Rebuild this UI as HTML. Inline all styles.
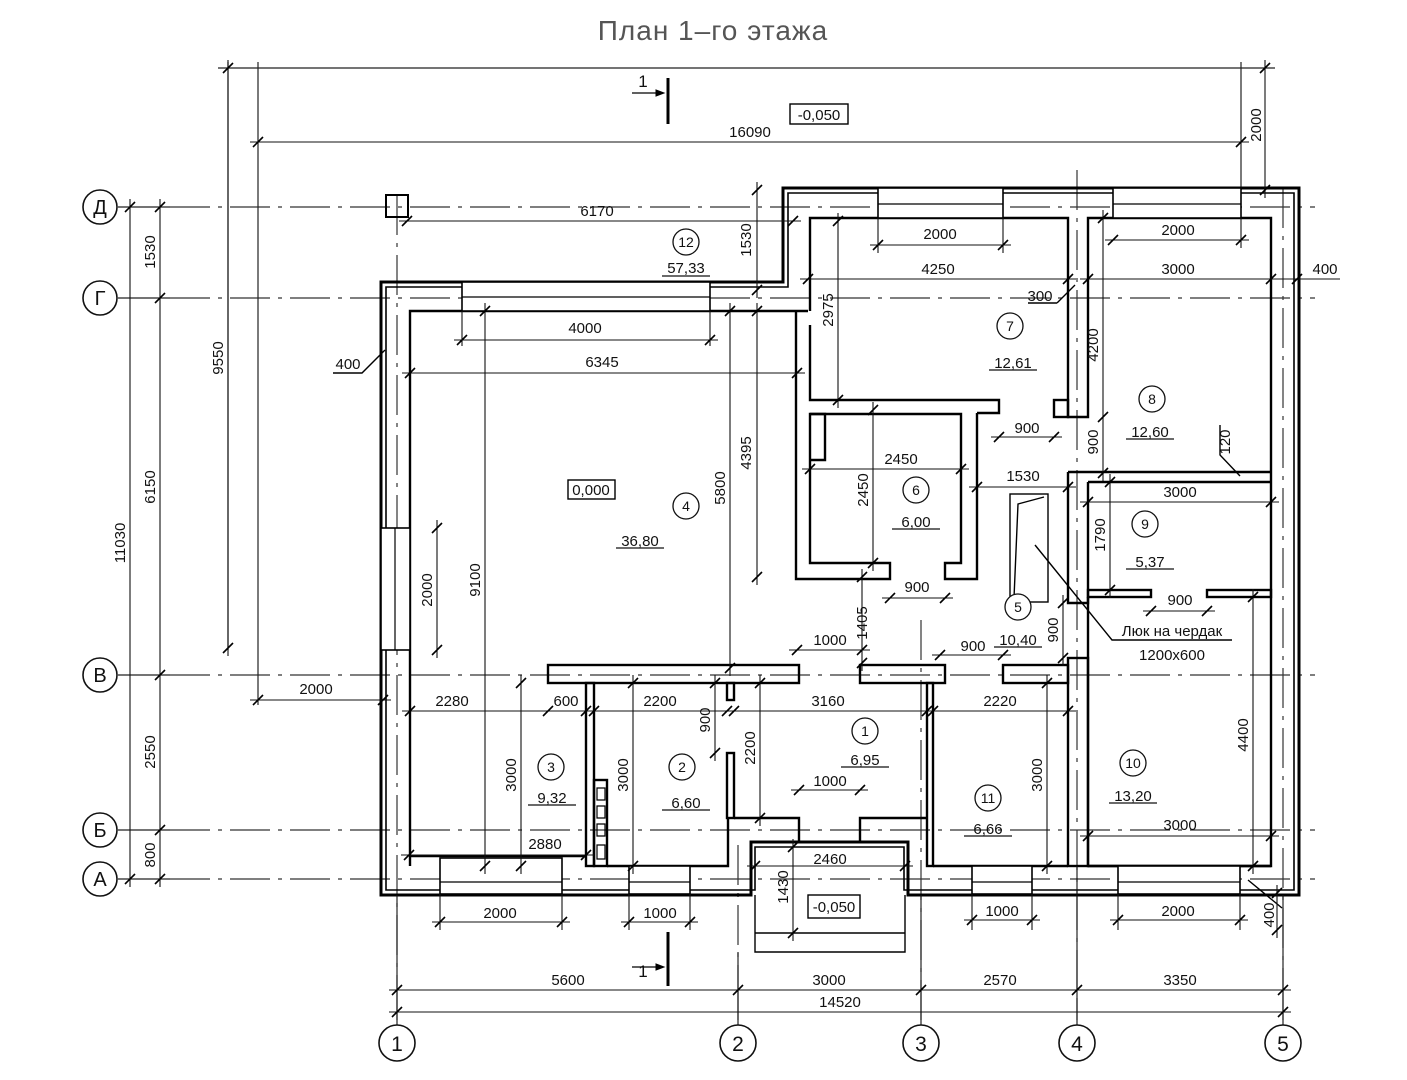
<!DOCTYPE html>
<html><head><meta charset="utf-8"><style>
html,body{margin:0;padding:0;background:#fff}
svg{display:block}
text{font-family:"Liberation Sans",sans-serif;font-size:15px;fill:#111}
.t{text-anchor:middle}
</style></head><body>
<svg width="1407" height="1080" viewBox="0 0 1407 1080" xmlns="http://www.w3.org/2000/svg">
<defs><path id="k" d="M-5,5L5,-5" stroke="#000" stroke-width="1.6"/></defs>
<rect width="1407" height="1080" fill="#fff"/>
<text x="713" y="40" class="t" style="font-size:28px;fill:#555;letter-spacing:1px">План 1–го этажа</text>

<g stroke="#333" stroke-width="1.2" stroke-dasharray="40,8,4,8" fill="none">
<path d="M170,207H1315M170,298H1315M170,675H1315M170,830H1315M170,879H1315"/>
<path d="M397,195V1000M738,845V1000M921,620V1000M1077,170V1000M1283,188V1000"/>
</g>
<g stroke="#222" stroke-width="1.2" fill="none">
<path d="M118,207H170M118,298H170M118,675H170M118,830H170M118,879H170"/>
<path d="M397,1000V1025M738,1000V1025M921,1000V1025M1077,1000V1025M1283,1000V1025"/>
<path d="M218,68H1275M258,62V705M228,62V650M1241,62V190"/>
</g>
<g fill="#fff" stroke="#111" stroke-width="1.6">
<circle cx="100" cy="207" r="17"/><circle cx="100" cy="298" r="17"/><circle cx="100" cy="675" r="17"/><circle cx="100" cy="830" r="17"/><circle cx="100" cy="879" r="17"/>
<circle cx="397" cy="1043" r="18"/><circle cx="738" cy="1043" r="18"/><circle cx="921" cy="1043" r="18"/><circle cx="1077" cy="1043" r="18"/><circle cx="1283" cy="1043" r="18"/>
</g>
<g>
<text x="100" y="214" class="t" style="font-size:20px">Д</text><text x="100" y="305" class="t" style="font-size:20px">Г</text><text x="100" y="682" class="t" style="font-size:20px">В</text><text x="100" y="837" class="t" style="font-size:20px">Б</text><text x="100" y="886" class="t" style="font-size:20px">А</text>
<text x="397" y="1051" class="t" style="font-size:21px">1</text><text x="738" y="1051" class="t" style="font-size:21px">2</text><text x="921" y="1051" class="t" style="font-size:21px">3</text><text x="1077" y="1051" class="t" style="font-size:21px">4</text><text x="1283" y="1051" class="t" style="font-size:21px">5</text>
</g>

<g fill="none" stroke="#000" stroke-width="3">
<path d="M381,282H783V188H1299V895H908V842H751V895H381Z"/>
</g>
<g fill="none" stroke="#000" stroke-width="1.6">
<path d="M386,287H788V193H1294V890H904V847H755V890H386Z"/>
</g>
<g fill="none" stroke="#000" stroke-width="2.4">
<path d="M410,856V311H808"/>
<path d="M810,311V218H1068V417H1088V218H1271V866H1088V597"/>
<rect x="1054" y="400" width="14" height="17"/>
<path d="M810,325V400H999V413H977"/>
<path d="M796,311V579H890V563H810V414H961V563H945V579H977V413"/>
<path d="M810,414h15v46h-15"/>
<path d="M1068,472H1271M1088,482H1271M1068,472V603H1088V482"/>
<rect x="1088" y="590" width="63" height="7"/><rect x="1207" y="590" width="64" height="7"/>
<rect x="1068" y="658" width="20" height="208"/>
<rect x="548" y="665" width="251" height="18"/><rect x="860" y="665" width="85" height="18"/><rect x="1003" y="665" width="65" height="18"/>
<rect x="586" y="683" width="8" height="183"/><rect x="594" y="780" width="13" height="86"/>
<path d="M597,788h8v12h-8zM597,806h8v12h-8zM597,824h8v12h-8zM597,845h8v14h-8z" stroke-width="1.2"/>
<rect x="727" y="683" width="7" height="17"/><rect x="727" y="753" width="7" height="65"/>
<path d="M734,818H799V842M860,842V818H927"/>
<rect x="927" y="683" width="6" height="183"/>
<path d="M410,856H586M607,866H728V818M933,866H1068M1088,866H1271"/>
<path d="M410,856V866"/>
</g>
<g fill="#fff" stroke="#000" stroke-width="1.6">
<rect x="440" y="858" width="122" height="36"/><rect x="629" y="866" width="61" height="28"/>
<rect x="972" y="866" width="60" height="28"/><rect x="1118" y="866" width="122" height="28"/>
<rect x="462" y="282" width="248" height="29"/><rect x="878" y="188" width="125" height="30"/><rect x="1113" y="188" width="128" height="30"/>
<rect x="381" y="528" width="29" height="122"/>
</g>
<g stroke="#000" stroke-width="1.2">
<path d="M440,882H562M629,882H690M972,882H1032M1118,882H1240M462,297H710M878,204H1003M1113,204H1241M395,528V650"/>
</g>
<g fill="none" stroke="#000" stroke-width="1.4">
<path d="M755,895V952H905V895M755,933H905"/>
<rect x="386" y="195" width="22" height="22" stroke-width="2"/>
<rect x="1010" y="494" width="38" height="108"/>
<path d="M1014,598L1018,504L1044,497"/>
<path d="M1035,545L1112,640H1232"/>
<path d="M1057,303L1075,285M1057,303H1028"/>
<path d="M1240,476L1220,455V425"/>
<path d="M385,350L362,373H333"/>
<path d="M1248,880L1282,908"/>
</g>
<g stroke="#000">
<path d="M632,93H663" stroke-width="1.3"/><path d="M668,78V124" stroke-width="3"/>
<path d="M632,967H663" stroke-width="1.3"/><path d="M668,932V986" stroke-width="3"/>
<path d="M656,90L664,93L656,96Z M656,964L664,967L656,970Z" fill="#000" stroke-width="1"/>
</g>
<text x="643" y="87" class="t" style="font-size:17px">1</text>
<text x="643" y="977" class="t" style="font-size:17px">1</text>
<g fill="#fff" stroke="#000" stroke-width="1.4">
<rect x="790" y="104" width="58" height="20"/><rect x="808" y="895" width="52" height="23"/><rect x="568" y="480" width="47" height="19"/>
</g>
<text x="819" y="120" class="t">-0,050</text><text x="834" y="912" class="t">-0,050</text><text x="591" y="495" class="t">0,000</text>

<g stroke="#111" stroke-width="1.1" fill="none">
<path d="M250,142H1249M399,221H801M870,245H1011M1105,240H1249M800,279H1076M1080,279H1340M454,340H718M402,373H805M991,437H1062M802,469H969M969,487H1076M1080,502H1279M882,598H953M1143,611H1215M789,650H870M932,655H1011M250,700H391M402,711H1076M791,790H868M401,855H594M747,866H913M1080,836H1279M432,922H570M621,922H698M964,920H1040M1110,920H1248M389,990H1291M389,1012H1291"/>
<path d="M1265,60V198M228,60V656M757,182V298M838,213V408M757,303V585M730,303V676M485,303V874M437,520V658M1103,210V481M873,402V571M1110,474V598M862,569V671M1063,595V666M715,675V761M760,675V826M521,675V874M633,675V874M1047,675V874M1253,589V874M793,839V941M1277,885V938M160,199V887M130,199V887"/>
<path d="M462,311V346M710,311V346M878,218V253M1003,218V253M1241,218V248M397,895V1020M738,952V1020M921,895V1020M1077,866V1020M1283,895V1020M440,894V930M562,894V930M629,894V930M690,894V930M972,894V930M1032,894V930M1118,894V930M1240,894V930"/>
</g>
<g>
<use href="#k" x="258" y="142"/><use href="#k" x="1241" y="142"/>
<use href="#k" x="407" y="221"/><use href="#k" x="793" y="221"/>
<use href="#k" x="878" y="245"/><use href="#k" x="1003" y="245"/>
<use href="#k" x="1113" y="240"/><use href="#k" x="1241" y="240"/>
<use href="#k" x="808" y="279"/><use href="#k" x="1068" y="279"/><use href="#k" x="1088" y="279"/><use href="#k" x="1271" y="279"/><use href="#k" x="1297" y="279"/>
<use href="#k" x="462" y="340"/><use href="#k" x="710" y="340"/>
<use href="#k" x="410" y="373"/><use href="#k" x="797" y="373"/>
<use href="#k" x="999" y="437"/><use href="#k" x="1054" y="437"/>
<use href="#k" x="810" y="469"/><use href="#k" x="961" y="469"/>
<use href="#k" x="977" y="487"/><use href="#k" x="1068" y="487"/>
<use href="#k" x="1088" y="502"/><use href="#k" x="1271" y="502"/>
<use href="#k" x="890" y="598"/><use href="#k" x="945" y="598"/>
<use href="#k" x="1151" y="611"/><use href="#k" x="1207" y="611"/>
<use href="#k" x="797" y="650"/><use href="#k" x="862" y="650"/>
<use href="#k" x="940" y="655"/><use href="#k" x="1003" y="655"/>
<use href="#k" x="258" y="700"/><use href="#k" x="383" y="700"/>
<use href="#k" x="410" y="711"/><use href="#k" x="548" y="711"/><use href="#k" x="586" y="711"/><use href="#k" x="594" y="711"/><use href="#k" x="727" y="711"/><use href="#k" x="734" y="711"/><use href="#k" x="927" y="711"/><use href="#k" x="933" y="711"/><use href="#k" x="1068" y="711"/>
<use href="#k" x="799" y="790"/><use href="#k" x="860" y="790"/>
<use href="#k" x="409" y="855"/><use href="#k" x="586" y="855"/>
<use href="#k" x="755" y="866"/><use href="#k" x="905" y="866"/>
<use href="#k" x="1088" y="836"/><use href="#k" x="1271" y="836"/>
<use href="#k" x="440" y="922"/><use href="#k" x="562" y="922"/><use href="#k" x="629" y="922"/><use href="#k" x="690" y="922"/>
<use href="#k" x="972" y="920"/><use href="#k" x="1032" y="920"/><use href="#k" x="1118" y="920"/><use href="#k" x="1240" y="920"/>
<use href="#k" x="397" y="990"/><use href="#k" x="738" y="990"/><use href="#k" x="921" y="990"/><use href="#k" x="1077" y="990"/><use href="#k" x="1283" y="990"/>
<use href="#k" x="397" y="1012"/><use href="#k" x="1283" y="1012"/>
<use href="#k" x="1265" y="68"/><use href="#k" x="1265" y="190"/>
<use href="#k" x="228" y="68"/><use href="#k" x="228" y="648"/>
<use href="#k" x="757" y="190"/><use href="#k" x="757" y="290"/>
<use href="#k" x="838" y="221"/><use href="#k" x="838" y="400"/>
<use href="#k" x="757" y="311"/><use href="#k" x="757" y="577"/>
<use href="#k" x="730" y="311"/><use href="#k" x="730" y="668"/>
<use href="#k" x="485" y="311"/><use href="#k" x="485" y="866"/>
<use href="#k" x="437" y="528"/><use href="#k" x="437" y="650"/>
<use href="#k" x="1103" y="218"/><use href="#k" x="1103" y="417"/><use href="#k" x="1103" y="473"/>
<use href="#k" x="873" y="410"/><use href="#k" x="873" y="563"/>
<use href="#k" x="1110" y="482"/><use href="#k" x="1110" y="590"/>
<use href="#k" x="862" y="577"/><use href="#k" x="862" y="663"/>
<use href="#k" x="1063" y="603"/><use href="#k" x="1063" y="658"/>
<use href="#k" x="715" y="683"/><use href="#k" x="715" y="753"/>
<use href="#k" x="760" y="683"/><use href="#k" x="760" y="818"/>
<use href="#k" x="521" y="683"/><use href="#k" x="521" y="866"/>
<use href="#k" x="633" y="683"/><use href="#k" x="633" y="866"/>
<use href="#k" x="1047" y="683"/><use href="#k" x="1047" y="866"/>
<use href="#k" x="1253" y="597"/><use href="#k" x="1253" y="866"/>
<use href="#k" x="793" y="847"/><use href="#k" x="793" y="933"/>
<use href="#k" x="1277" y="893"/><use href="#k" x="1277" y="930"/>
<use href="#k" x="160" y="207"/><use href="#k" x="160" y="298"/><use href="#k" x="160" y="675"/><use href="#k" x="160" y="830"/><use href="#k" x="160" y="879"/>
<use href="#k" x="130" y="207"/><use href="#k" x="130" y="879"/>
</g>
<g>
<text x="750" y="137" class="t">16090</text><text x="597" y="216" class="t">6170</text>
<text x="940" y="239" class="t">2000</text><text x="1178" y="235" class="t">2000</text>
<text x="938" y="274" class="t">4250</text><text x="1178" y="274" class="t">3000</text><text x="1325" y="274" class="t">400</text>
<text x="1040" y="301" class="t">300</text>
<text x="585" y="333" class="t">4000</text><text x="602" y="367" class="t">6345</text><text x="348" y="369" class="t">400</text>
<text x="1027" y="433" class="t">900</text><text x="901" y="464" class="t">2450</text><text x="1023" y="481" class="t">1530</text><text x="1180" y="497" class="t">3000</text>
<text x="917" y="592" class="t">900</text><text x="1180" y="605" class="t">900</text>
<text x="830" y="645" class="t">1000</text><text x="973" y="651" class="t">900</text>
<text x="1172" y="636" class="t">Люк на чердак</text><text x="1172" y="660" class="t">1200х600</text>
<text x="316" y="694" class="t">2000</text>
<text x="452" y="706" class="t">2280</text><text x="566" y="706" class="t">600</text><text x="660" y="706" class="t">2200</text><text x="828" y="706" class="t">3160</text><text x="1000" y="706" class="t">2220</text>
<text x="830" y="786" class="t">1000</text><text x="545" y="849" class="t">2880</text><text x="830" y="864" class="t">2460</text><text x="1180" y="830" class="t">3000</text>
<text x="500" y="918" class="t">2000</text><text x="660" y="918" class="t">1000</text><text x="1002" y="916" class="t">1000</text><text x="1178" y="916" class="t">2000</text>
<text x="568" y="985" class="t">5600</text><text x="829" y="985" class="t">3000</text><text x="1000" y="985" class="t">2570</text><text x="1180" y="985" class="t">3350</text><text x="840" y="1007" class="t">14520</text>
</g>
<g>
<text transform="translate(1261,125) rotate(-90)" class="t">2000</text>
<text transform="translate(223,358) rotate(-90)" class="t">9550</text>
<text transform="translate(751,240) rotate(-90)" class="t">1530</text>
<text transform="translate(833,310) rotate(-90)" class="t">2975</text>
<text transform="translate(751,453) rotate(-90)" class="t">4395</text>
<text transform="translate(725,488) rotate(-90)" class="t">5800</text>
<text transform="translate(480,580) rotate(-90)" class="t">9100</text>
<text transform="translate(432,590) rotate(-90)" class="t">2000</text>
<text transform="translate(1098,345) rotate(-90)" class="t">4200</text>
<text transform="translate(1098,442) rotate(-90)" class="t">900</text>
<text transform="translate(1230,442) rotate(-90)" class="t">120</text>
<text transform="translate(868,490) rotate(-90)" class="t">2450</text>
<text transform="translate(1105,535) rotate(-90)" class="t">1790</text>
<text transform="translate(867,623) rotate(-90)" class="t">1405</text>
<text transform="translate(1058,630) rotate(-90)" class="t">900</text>
<text transform="translate(710,720) rotate(-90)" class="t">900</text>
<text transform="translate(755,748) rotate(-90)" class="t">2200</text>
<text transform="translate(516,775) rotate(-90)" class="t">3000</text>
<text transform="translate(628,775) rotate(-90)" class="t">3000</text>
<text transform="translate(1042,775) rotate(-90)" class="t">3000</text>
<text transform="translate(1248,735) rotate(-90)" class="t">4400</text>
<text transform="translate(788,887) rotate(-90)" class="t">1430</text>
<text transform="translate(1274,915) rotate(-90)" class="t">400</text>
<text transform="translate(155,252) rotate(-90)" class="t">1530</text>
<text transform="translate(155,487) rotate(-90)" class="t">6150</text>
<text transform="translate(155,752) rotate(-90)" class="t">2550</text>
<text transform="translate(155,855) rotate(-90)" class="t">800</text>
<text transform="translate(125,543) rotate(-90)" class="t">11030</text>
</g>

<g fill="#fff" stroke="#111" stroke-width="1.3">
<circle cx="686" cy="242" r="13"/><circle cx="1010" cy="326" r="13"/><circle cx="1152" cy="399" r="13"/><circle cx="916" cy="490" r="13"/><circle cx="686" cy="506" r="13"/><circle cx="1145" cy="524" r="13"/><circle cx="1018" cy="607" r="13"/><circle cx="865" cy="731" r="13"/><circle cx="551" cy="767" r="13"/><circle cx="682" cy="767" r="13"/><circle cx="988" cy="798" r="13"/><circle cx="1133" cy="763" r="13"/>
</g>
<g stroke="#111" stroke-width="1.2">
<path d="M662,276H710M989,370H1037M1126,439H1174M892,529H940M616,548H664M1126,569H1174M994,647H1042M841,767H889M528,805H576M662,810H710M964,836H1012M1109,803H1157"/>
</g>
<g>
<text x="686" y="247" class="t" style="font-size:14px">12</text><text x="1010" y="331" class="t" style="font-size:14px">7</text><text x="1152" y="404" class="t" style="font-size:14px">8</text><text x="916" y="495" class="t" style="font-size:14px">6</text><text x="686" y="511" class="t" style="font-size:14px">4</text><text x="1145" y="529" class="t" style="font-size:14px">9</text><text x="1018" y="612" class="t" style="font-size:14px">5</text><text x="865" y="736" class="t" style="font-size:14px">1</text><text x="551" y="772" class="t" style="font-size:14px">3</text><text x="682" y="772" class="t" style="font-size:14px">2</text><text x="988" y="803" class="t" style="font-size:14px">11</text><text x="1133" y="768" class="t" style="font-size:14px">10</text>
</g>
<g>
<text x="686" y="273" class="t">57,33</text><text x="1013" y="368" class="t">12,61</text><text x="1150" y="437" class="t">12,60</text><text x="916" y="527" class="t">6,00</text><text x="640" y="546" class="t">36,80</text><text x="1150" y="567" class="t">5,37</text><text x="1018" y="645" class="t">10,40</text><text x="865" y="765" class="t">6,95</text><text x="552" y="803" class="t">9,32</text><text x="686" y="808" class="t">6,60</text><text x="988" y="834" class="t">6,66</text><text x="1133" y="801" class="t">13,20</text>
</g>
</svg>
</body></html>
